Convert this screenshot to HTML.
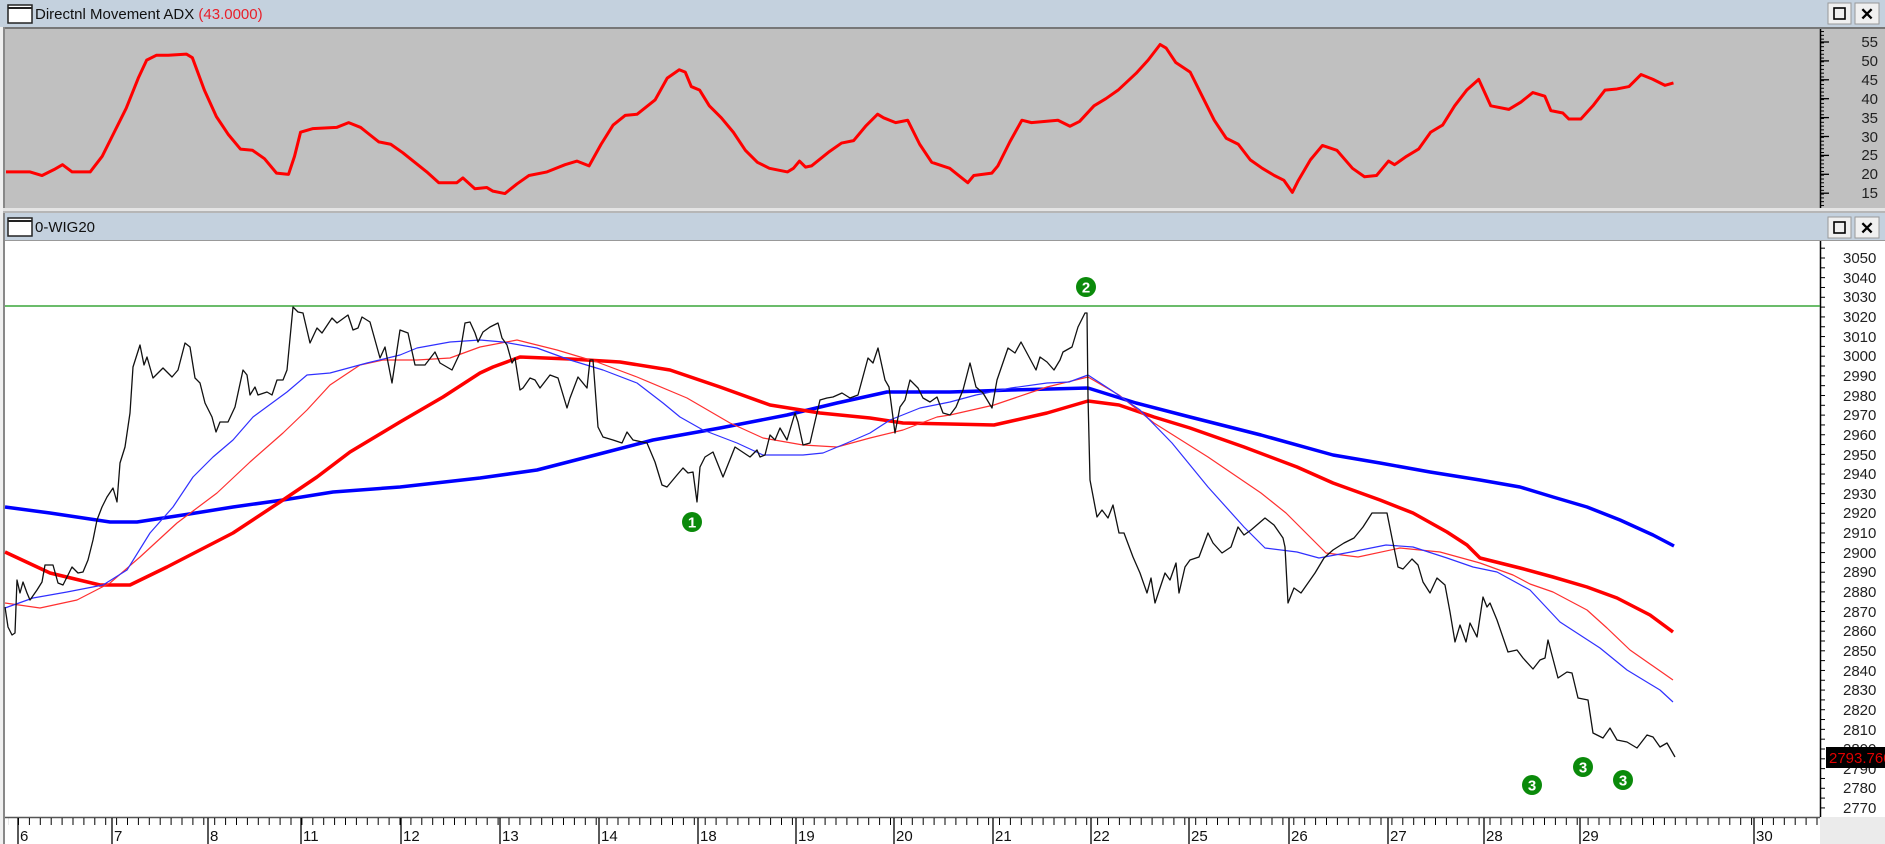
<!DOCTYPE html>
<html><head><meta charset="utf-8"><style>
html,body{margin:0;padding:0;background:#fff;}
svg{display:block;}
text{font-family:"Liberation Sans",sans-serif;}
</style></head><body>
<svg width="1885" height="844" viewBox="0 0 1885 844" xmlns="http://www.w3.org/2000/svg">
<defs>
<pattern id="adxt" x="1820" y="27.3" width="10" height="3.78" patternUnits="userSpaceOnUse"><line x1="0" y1="0.5" x2="4" y2="0.5" stroke="#000" stroke-width="1"/></pattern>
<pattern id="prt" x="1820" y="257.5" width="10" height="9.82" patternUnits="userSpaceOnUse"><line x1="0" y1="0.5" x2="5" y2="0.5" stroke="#000" stroke-width="1"/></pattern>
<pattern id="xt" x="18" y="817" width="10.9" height="20" patternUnits="userSpaceOnUse"><line x1="0.5" y1="0" x2="0.5" y2="8" stroke="#000" stroke-width="1"/></pattern>
</defs>
<rect x="0" y="0" width="1885" height="844" fill="#f0f0f0"/>
<!-- top title bar -->
<rect x="0" y="0" width="1885" height="27" fill="#c4d1de"/>
<rect x="8" y="5" width="24" height="18" fill="#fff" stroke="#222" stroke-width="1.5"/>
<line x1="8" y1="8" x2="32" y2="8" stroke="#222" stroke-width="2"/>
<text x="35" y="19" font-size="15" fill="#111">Directnl Movement ADX <tspan fill="#e8202a">(43.0000)</tspan></text>
<rect x="1828" y="3" width="23" height="21" fill="#f0f0f0" stroke="#999"/>
<rect x="1834" y="8" width="11" height="11" fill="none" stroke="#000" stroke-width="1.6"/>
<rect x="1855" y="3" width="24" height="21" fill="#f0f0f0" stroke="#999"/>
<text x="1867" y="20" font-size="17" font-weight="bold" text-anchor="middle" fill="#000">✕</text>
<!-- ADX panel -->
<rect x="3" y="27" width="1882" height="2" fill="#777"/>
<rect x="5" y="29" width="1815" height="179" fill="#c0c0c0"/>
<rect x="1820" y="29" width="65" height="179" fill="#c0c0c0"/>
<line x1="4" y1="27" x2="4" y2="844" stroke="#888" stroke-width="2"/>
<line x1="1820.5" y1="29" x2="1820.5" y2="208" stroke="#000" stroke-width="1.5"/>
<rect x="1820" y="29" width="5" height="179" fill="url(#adxt)"/>
<g stroke="#000" stroke-width="1.3">
<line x1="1820" y1="42" x2="1829" y2="42"/><line x1="1820" y1="60.9" x2="1829" y2="60.9"/><line x1="1820" y1="79.8" x2="1829" y2="79.8"/><line x1="1820" y1="98.7" x2="1829" y2="98.7"/><line x1="1820" y1="117.6" x2="1829" y2="117.6"/><line x1="1820" y1="136.5" x2="1829" y2="136.5"/><line x1="1820" y1="155.4" x2="1829" y2="155.4"/><line x1="1820" y1="174.3" x2="1829" y2="174.3"/><line x1="1820" y1="193.2" x2="1829" y2="193.2"/>
</g>
<g font-size="15" fill="#222" text-anchor="end">
<text x="1878" y="47">55</text><text x="1878" y="66">50</text><text x="1878" y="85">45</text><text x="1878" y="104">40</text><text x="1878" y="123">35</text><text x="1878" y="142">30</text><text x="1878" y="160">25</text><text x="1878" y="179">20</text><text x="1878" y="198">15</text>
</g>
<g transform="scale(1.2022)">
<polyline fill="none" stroke="#ff0000" stroke-width="2.5" stroke-linejoin="round" points="5,143 25,143 35,146 45,141 52,137 60,143 75,143 85,130 95,110 105,90 115,65 122,50 130,46 140,46 155,45 160,48 170,75 180,97 190,112 200,124 210,125 220,132 230,144 240,145 245,130 250,110 260,107 280,106 290,102 300,106 305,110 315,118 325,120 335,127 345,135 355,143 365,152 380,152 385,148 395,157 405,156 410,159 420,161 430,153 440,146 455,143 470,137 480,134 490,138 500,120 510,104 520,96 530,95 545,83 555,65 565,58 570,60 575,72 582,75 590,88 600,98 610,110 620,125 630,135 640,140 655,143 660,140 665,134 670,139 675,138 690,126 700,119 710,117 720,105 730,95 735,98 745,102 755,100 765,120 775,135 790,140 800,148 805,152 810,146 825,144 830,138 840,118 850,100 858,102 880,100 890,105 898,101 910,88 920,82 930,75 945,61 955,50 965,37 970,40 978,52 990,60 1000,80 1010,100 1020,115 1030,120 1040,133 1050,140 1060,146 1068,150 1075,160 1080,150 1090,133 1100,121 1112,125 1125,140 1135,147 1145,146 1150,140 1155,134 1160,137 1170,130 1180,124 1190,110 1200,104 1210,88 1220,75 1230,66 1240,88 1255,91 1265,85 1275,77 1285,80 1290,92 1300,94 1305,99 1315,99 1325,88 1335,75 1345,74 1355,72 1365,62 1375,66 1385,71 1392,69"/>
</g>
<!-- separator + second title -->
<rect x="3" y="208" width="1882" height="5" fill="#e4e4e4"/>
<line x1="3" y1="212" x2="1885" y2="212" stroke="#888" stroke-width="1"/>
<rect x="5" y="213" width="1880" height="27" fill="#c4d1de"/>
<rect x="8" y="218" width="24" height="18" fill="#fff" stroke="#222" stroke-width="1.5"/>
<line x1="8" y1="221" x2="32" y2="221" stroke="#222" stroke-width="2"/>
<text x="35" y="232" font-size="15" fill="#111">0-WIG20</text>
<rect x="1828" y="217" width="23" height="21" fill="#f0f0f0" stroke="#999"/>
<rect x="1834" y="222" width="11" height="11" fill="none" stroke="#000" stroke-width="1.6"/>
<rect x="1855" y="217" width="24" height="21" fill="#f0f0f0" stroke="#999"/>
<text x="1867" y="234" font-size="17" font-weight="bold" text-anchor="middle" fill="#000">✕</text>
<!-- main panel -->
<rect x="5" y="240" width="1880" height="577" fill="#fff"/>
<line x1="5" y1="240.5" x2="1885" y2="240.5" stroke="#999" stroke-width="1"/>
<line x1="1820.5" y1="241" x2="1820.5" y2="817" stroke="#000" stroke-width="1.5"/>
<rect x="1820" y="241" width="6" height="576" fill="url(#prt)"/>
<g font-size="15" fill="#222">
<text x="1843" y="263">3050</text><text x="1843" y="283">3040</text><text x="1843" y="302">3030</text><text x="1843" y="322">3020</text><text x="1843" y="342">3010</text><text x="1843" y="361">3000</text><text x="1843" y="381">2990</text><text x="1843" y="401">2980</text><text x="1843" y="420">2970</text><text x="1843" y="440">2960</text><text x="1843" y="460">2950</text><text x="1843" y="479">2940</text><text x="1843" y="499">2930</text><text x="1843" y="518">2920</text><text x="1843" y="538">2910</text><text x="1843" y="558">2900</text><text x="1843" y="577">2890</text><text x="1843" y="597">2880</text><text x="1843" y="617">2870</text><text x="1843" y="636">2860</text><text x="1843" y="656">2850</text><text x="1843" y="676">2840</text><text x="1843" y="695">2830</text><text x="1843" y="715">2820</text><text x="1843" y="735">2810</text><text x="1843" y="754">2800</text><text x="1843" y="774">2790</text><text x="1843" y="793">2780</text><text x="1843" y="813">2770</text>
</g>
<rect x="1826" y="747" width="59" height="21" fill="#000"/>
<text x="1829" y="763" font-size="15" fill="#e00000">2793.760</text>
<line x1="5" y1="306" x2="1820" y2="306" stroke="#3aa53a" stroke-width="1.5"/>
<!-- series -->
<polyline fill="none" stroke="#0000ff" stroke-width="3.5" stroke-linejoin="round" points="5,507 50,513 110,522 137,522 183,515 233,507 283,500 333,492 400,487 480,478 537,470 603,453 653,440 720,428 787,415 837,403 887,392 950,392 1011,390 1088,388 1136,403 1190,417 1261,435 1333,455 1380,463 1430,472 1480,480 1520,487 1553,497 1587,507 1620,520 1653,535 1674,546"/>
<polyline fill="none" stroke="#ff0000" stroke-width="3.5" stroke-linejoin="round" points="5,552 50,573 100,585 130,585 167,567 233,533 283,500 317,477 350,452 400,422 443,397 480,373 493,367 520,357 570,359 620,362 670,370 720,387 770,405 820,413 870,418 903,423 950,424 994,425 1047,413 1088,401 1119,405 1154,417 1190,428 1244,447 1297,467 1333,483 1380,500 1413,513 1447,532 1467,545 1480,558 1500,563 1520,568 1553,577 1587,587 1617,598 1650,615 1673,632"/>
<polyline fill="none" stroke="#ff3030" stroke-width="1.2" stroke-linejoin="round" points="5,603 40,608 77,600 110,583 140,557 177,523 217,493 250,462 283,433 307,410 330,385 360,365 383,360 417,360 450,358 480,347 517,340 557,350 597,362 637,377 687,398 730,423 763,438 803,445 837,447 870,438 903,430 937,417 950,415 994,405 1047,387 1088,377 1119,395 1154,423 1208,457 1261,493 1286,513 1326,553 1358,557 1400,548 1440,552 1480,563 1513,575 1530,584 1553,592 1587,610 1607,628 1630,650 1673,680"/>
<polyline fill="none" stroke="#3030ff" stroke-width="1.2" stroke-linejoin="round" points="5,608 33,598 67,592 103,585 127,570 150,533 173,507 193,477 213,457 233,440 253,417 287,392 307,375 330,373 367,363 400,355 417,348 450,342 480,340 503,342 537,348 570,360 603,370 637,383 663,403 680,417 703,430 737,443 763,455 803,455 823,453 847,443 870,433 890,420 920,408 950,402 976,395 1011,388 1047,383 1069,382 1088,375 1111,390 1140,410 1172,443 1208,487 1244,527 1265,548 1297,552 1319,558 1351,552 1386,545 1413,547 1447,558 1473,567 1497,572 1530,590 1560,622 1600,648 1627,670 1660,690 1673,702"/>
<polyline fill="none" stroke="#111" stroke-width="1.3" stroke-linejoin="round" points="5,607 8,627 12,635 15,633 17,580 20,593 23,582 27,593 30,600 37,590 42,582 45,565 53,565 58,583 63,585 72,567 78,573 83,572 88,560 93,540 97,520 102,507 107,497 113,488 117,502 120,463 125,447 130,413 133,367 140,345 144,365 147,357 153,378 163,368 172,377 178,370 185,343 190,347 195,378 200,383 205,403 212,417 216,432 220,422 228,422 235,407 243,370 247,375 250,395 255,387 258,395 267,392 272,395 277,380 283,380 287,370 293,307 298,312 303,313 310,343 317,328 322,333 332,318 337,323 348,315 353,330 358,328 362,317 370,322 380,358 385,347 392,383 400,330 408,333 415,365 425,365 435,352 440,363 452,370 460,353 465,323 470,322 475,333 478,342 483,332 490,327 498,323 502,338 507,345 512,363 515,358 520,390 523,388 530,378 535,380 540,388 550,375 558,378 567,408 570,398 578,377 587,388 590,360 593,360 598,427 603,437 613,440 622,443 627,432 633,440 647,443 655,462 662,485 667,487 677,475 683,468 688,473 693,472 697,502 700,467 705,457 713,452 723,477 735,447 750,457 757,450 760,457 765,455 770,435 775,440 780,428 787,440 795,413 798,422 803,445 810,443 820,400 827,398 833,397 842,393 850,398 858,395 868,358 873,363 878,348 885,380 889,387 895,433 900,407 905,400 910,380 918,388 923,398 930,402 937,397 943,413 950,415 956,407 963,390 970,363 976,387 983,393 992,408 997,380 1008,348 1015,353 1021,342 1036,370 1040,357 1047,362 1054,370 1060,360 1063,352 1072,347 1078,327 1085,313 1087,313 1088,397 1090,480 1097,517 1102,510 1108,518 1113,505 1119,533 1124,533 1133,557 1140,573 1147,593 1151,578 1155,603 1165,573 1170,580 1176,563 1179,593 1185,567 1190,560 1199,557 1208,533 1213,543 1222,553 1231,547 1238,527 1244,535 1251,530 1265,518 1274,525 1283,538 1285,547 1288,603 1294,588 1301,593 1315,573 1324,558 1333,550 1344,543 1354,538 1363,527 1372,513 1387,513 1392,538 1398,567 1403,569 1412,559 1418,565 1423,582 1430,593 1437,578 1445,585 1450,612 1455,642 1460,625 1466,642 1470,623 1477,637 1483,597 1487,607 1490,603 1497,620 1508,652 1517,650 1523,658 1533,669 1540,660 1545,658 1548,640 1558,678 1567,672 1572,673 1578,698 1588,700 1593,733 1603,738 1610,728 1617,740 1627,742 1637,748 1647,735 1653,737 1660,747 1667,743 1675,757"/>
<!-- markers -->
<g font-size="15" font-weight="bold" fill="#fff" text-anchor="middle">
<circle cx="692" cy="522" r="10" fill="#0a8a0a"/><text x="692" y="527.5">1</text>
<circle cx="1086" cy="287" r="10" fill="#0a8a0a"/><text x="1086" y="292.5">2</text>
<circle cx="1532" cy="785" r="10" fill="#0a8a0a"/><text x="1532" y="790.5">3</text>
<circle cx="1583" cy="767" r="10" fill="#0a8a0a"/><text x="1583" y="772.5">3</text>
<circle cx="1623" cy="780" r="10" fill="#0a8a0a"/><text x="1623" y="785.5">3</text>
</g>
<!-- x axis -->
<rect x="5" y="817" width="1815" height="27" fill="#fff"/>
<rect x="1820" y="817" width="65" height="27" fill="#ebebeb"/>
<line x1="5" y1="817.5" x2="1820" y2="817.5" stroke="#555" stroke-width="1.5"/>
<rect x="8" y="818" width="1812" height="8" fill="url(#xt)"/>
<g stroke="#000" stroke-width="1.3">
<line x1="18" y1="818" x2="18" y2="844"/><line x1="112" y1="818" x2="112" y2="844"/><line x1="208" y1="818" x2="208" y2="844"/><line x1="301" y1="818" x2="301" y2="844"/><line x1="401" y1="818" x2="401" y2="844"/><line x1="500" y1="818" x2="500" y2="844"/><line x1="599" y1="818" x2="599" y2="844"/><line x1="698" y1="818" x2="698" y2="844"/><line x1="796" y1="818" x2="796" y2="844"/><line x1="894" y1="818" x2="894" y2="844"/><line x1="993" y1="818" x2="993" y2="844"/><line x1="1091" y1="818" x2="1091" y2="844"/><line x1="1189" y1="818" x2="1189" y2="844"/><line x1="1289" y1="818" x2="1289" y2="844"/><line x1="1388" y1="818" x2="1388" y2="844"/><line x1="1484" y1="818" x2="1484" y2="844"/><line x1="1580" y1="818" x2="1580" y2="844"/><line x1="1754" y1="818" x2="1754" y2="844"/>
</g>
<g font-size="15" fill="#111">
<text x="20" y="841">6</text><text x="114" y="841">7</text><text x="210" y="841">8</text><text x="303" y="841">11</text><text x="403" y="841">12</text><text x="502" y="841">13</text><text x="601" y="841">14</text><text x="700" y="841">18</text><text x="798" y="841">19</text><text x="896" y="841">20</text><text x="995" y="841">21</text><text x="1093" y="841">22</text><text x="1191" y="841">25</text><text x="1291" y="841">26</text><text x="1390" y="841">27</text><text x="1486" y="841">28</text><text x="1582" y="841">29</text><text x="1756" y="841">30</text>
</g>
</svg>
</body></html>
